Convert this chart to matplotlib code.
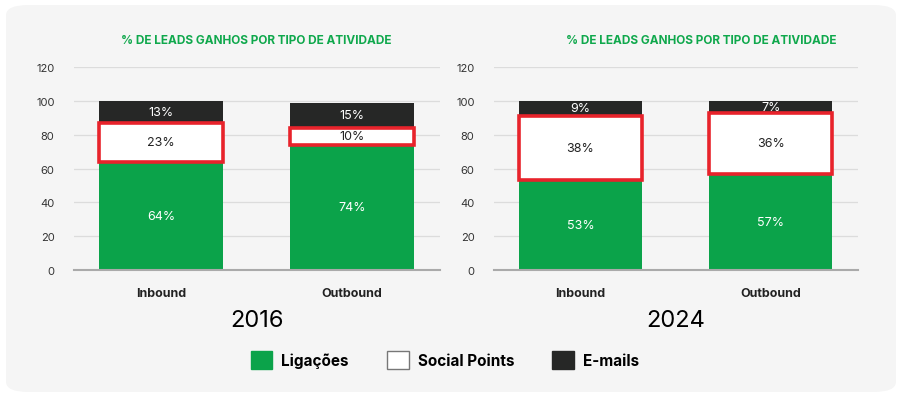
import numpy as np
import matplotlib.pyplot as plt
from matplotlib.patches import FancyBboxPatch, Patch

plt.rcParams['font.family'] = ['Inter', 'DejaVu Sans']

# dados
categorias = ['Inbound', 'Outbound']
anos = ['2016', '2024']
ligacoes = {'2016': [64, 74], '2024': [53, 57]}
social = {'2016': [23, 10], '2024': [38, 36]}
emails = {'2016': [13, 15], '2024': [9, 7]}
yticks = [0, 20, 40, 60, 80, 100, 120]
titulo = '% DE LEADS GANHOS POR TIPO DE ATIVIDADE'

verde = '#0ba34a'
preto = '#262726'
vermelho = '#e8232b'
fundo = '#f5f5f5'

W, H = 904, 410
fig = plt.figure(figsize=(W / 100, H / 100), dpi=100)
fig.patch.set_facecolor('white')

# painel cinza arredondado
bg = FancyBboxPatch((6 / W, 1 - 393 / H), 890 / W, 387 / H,
                    boxstyle='round,pad=0,rounding_size=0.025',
                    transform=fig.transFigure, facecolor=fundo,
                    edgecolor='none', zorder=-10)
fig.patches.append(bg)

def px(x0, y0, x1, y1):
    return [x0 / W, 1 - y1 / H, (x1 - x0) / W, (y1 - y0) / H]

axes_pos = [px(74, 68, 440, 271), px(494, 68, 858, 271)]
title_x = [256, 701]
year_x = [257, 676]

for i, ano in enumerate(anos):
    ax = fig.add_axes(axes_pos[i])
    ax.set_facecolor('none')
    x = np.arange(len(categorias))
    g = np.array(ligacoes[ano])
    s = np.array(social[ano])
    e = np.array(emails[ano])
    w = 0.65

    ax.bar(x, g, w, color=verde, zorder=2)
    ax.bar(x, s, w, bottom=g, color='white', edgecolor=vermelho, linewidth=2.6, zorder=4)
    ax.bar(x, e, w, bottom=g + s, color=preto, zorder=2)

    for j in range(len(x)):
        ax.text(x[j], g[j] / 2, f'{g[j]}%', ha='center', va='center', color='white', fontsize=9, zorder=5)
        ax.text(x[j], g[j] + s[j] / 2, f'{s[j]}%', ha='center', va='center', color='#222222', fontsize=9, zorder=5)
        ax.text(x[j], g[j] + s[j] + e[j] / 2, f'{e[j]}%', ha='center', va='center', color='white', fontsize=9, zorder=5)

    ax.set_xlim(-0.455, 1.46)
    ax.set_ylim(0, 120)
    ax.set_yticks(yticks)
    ax.set_xticks(x)
    ax.set_xticklabels(categorias, fontsize=9, fontweight='bold', color='#222222')
    ax.tick_params(axis='y', length=0, pad=14, labelsize=8, labelcolor='#333333')
    ax.tick_params(axis='x', length=0, pad=12)
    ax.grid(axis='y', color='#dcdcdc', linewidth=0.9, zorder=0)
    ax.set_axisbelow(True)
    for sp in ['top', 'right', 'left']:
        ax.spines[sp].set_visible(False)
    ax.spines['bottom'].set_color('#aaaaaa')
    ax.spines['bottom'].set_linewidth(1.5)

    fig.text(title_x[i] / W, 1 - 41 / H, titulo, ha='center', va='center',
             color='#0fa84c', fontsize=8.5, fontweight='bold')
    fig.text(year_x[i] / W, 1 - 321 / H, ano, ha='center', va='center',
             color='black', fontsize=17)

handles = [Patch(facecolor=verde, edgecolor=verde, label='Ligações'),
           Patch(facecolor='white', edgecolor='#777777', label='Social Points'),
           Patch(facecolor=preto, edgecolor=preto, label='E-mails')]
fig.legend(handles=handles, loc='center', bbox_to_anchor=(445 / W, 1 - 361 / H),
           ncol=3, frameon=False, handlelength=1.4, handleheight=1.4,
           handletextpad=0.6, columnspacing=2.5,
           prop={'family': 'Inter', 'weight': 'bold', 'size': 11})

fig.savefig('out.png', dpi=100, facecolor='white')
